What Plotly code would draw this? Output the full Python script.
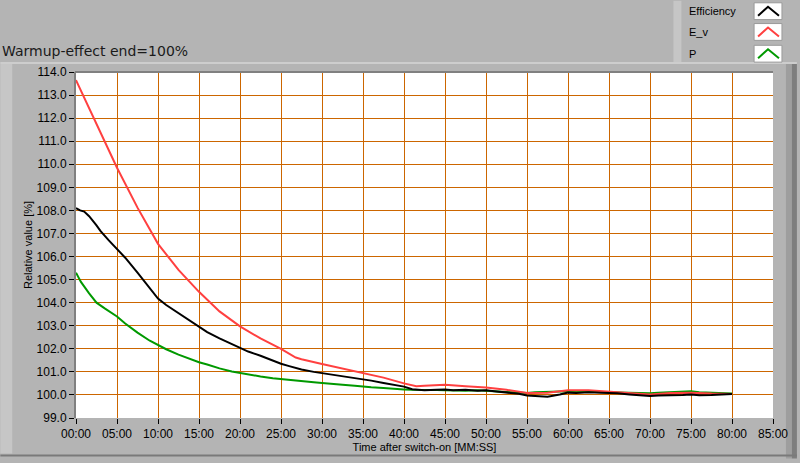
import plotly.graph_objects as go

# ---- data (minutes after switch-on, relative value %) ----
t_red = [0, 1, 2.5, 5, 7.5, 10, 12.5, 15, 17.5, 20, 22.5, 25, 26.8, 27.5, 30, 32.5, 35, 37.5, 40,
         41.5, 42.5, 45, 47.5, 50, 52.5, 55, 57.5, 60, 62.5, 65, 67.5, 70, 72.5, 75, 77.5, 80]
ev = [113.65, 112.9, 111.75, 109.85, 108.12, 106.55, 105.42, 104.47, 103.62, 102.97, 102.45, 102.0, 101.62,
      101.55, 101.34, 101.15, 100.97, 100.75, 100.5, 100.38, 100.4, 100.44, 100.38, 100.32, 100.22,
      100.08, 100.1, 100.2, 100.2, 100.15, 100.1, 100.02, 100.08, 100.1, 100.06, 100.04]

t_blk = [0, 0.5, 1, 1.6, 2.5, 3, 4, 5, 6, 7.5, 9, 10, 11, 12.5, 13.5, 15, 16, 17.5, 19, 20, 21, 22.5, 24,
         25, 26, 27.5, 29, 30, 31, 32.5, 34, 35, 36, 37.5, 39, 40, 41, 42.5, 44, 45, 46, 47.5, 49, 50, 51,
         52.5, 54, 55, 56, 57.5, 59, 60, 61, 62.5, 64, 65, 66, 67.5, 69, 70, 71, 72.5, 74, 75, 76, 77.5, 79, 80]
eff = [108.1, 108.0, 107.95, 107.75, 107.35, 107.1, 106.7, 106.32, 105.95, 105.3, 104.6, 104.18, 103.9,
       103.55, 103.3, 102.95, 102.72, 102.45, 102.2, 102.02, 101.88, 101.7, 101.48, 101.35, 101.25, 101.1,
       101.0, 100.95, 100.9, 100.82, 100.74, 100.7, 100.62, 100.52, 100.42, 100.36, 100.25, 100.2, 100.22,
       100.24, 100.2, 100.22, 100.18, 100.2, 100.16, 100.12, 100.05, 99.98, 99.95, 99.92, 100.02, 100.1,
       100.08, 100.12, 100.1, 100.1, 100.07, 100.02, 99.97, 99.95, 99.98, 99.98, 100.0, 100.02, 99.99,
       100.0, 100.02, 100.04]

t_grn = [0, 0.6, 1.6, 2.5, 3.5, 4.5, 5, 6, 7.5, 9, 10, 11, 12.5, 14, 15, 16, 17.5, 19, 20, 21, 22.5, 24, 25,
         26, 27.5, 29, 30, 31, 32.5, 34, 35, 36, 37.5, 39, 40, 41, 42.5, 44, 45, 46, 47.5, 49, 50, 51, 52.5,
         54, 55, 56, 57.5, 59, 60, 61, 62.5, 64, 65, 66, 67.5, 69, 70, 71, 72.5, 74, 75, 76, 77.5, 79, 80]
pw = [105.3, 104.9, 104.4, 104.0, 103.75, 103.5, 103.4, 103.1, 102.7, 102.35, 102.15, 101.98, 101.75,
      101.55, 101.42, 101.32, 101.15, 101.02, 100.95, 100.88, 100.8, 100.72, 100.68, 100.64, 100.6, 100.55,
      100.52, 100.48, 100.44, 100.4, 100.36, 100.33, 100.3, 100.28, 100.24, 100.22, 100.2, 100.21, 100.2,
      100.19, 100.18, 100.2, 100.18, 100.16, 100.14, 100.1, 100.08, 100.12, 100.14, 100.15, 100.16, 100.15,
      100.14, 100.12, 100.1, 100.1, 100.08, 100.08, 100.07, 100.1, 100.12, 100.15, 100.16, 100.12, 100.1,
      100.08, 100.06]

x_tickvals = list(range(0, 90, 5))
x_ticktext = ["%02d:00" % v for v in x_tickvals]
y_tickvals = list(range(99, 115))

series_names = ["Efficiency", "E_v", "P"]
series_colors = ["#000000", "#FF4040", "#009900"]

BG = "#B4B4B4"
GRID = "#CC6600"
FONT = "Liberation Sans"

W, H = 800, 463
ML, MR, MT, MB = 76, 24, 72, 41
PW, PH = W - ML - MR, H - MT - MB

fig = go.Figure()
fig.add_trace(go.Scatter(x=t_grn, y=pw, mode="lines", line=dict(color=series_colors[2], width=2),
                         name=series_names[2], showlegend=False))
fig.add_trace(go.Scatter(x=t_red, y=ev, mode="lines", line=dict(color=series_colors[1], width=2),
                         name=series_names[1], showlegend=False))
fig.add_trace(go.Scatter(x=t_blk, y=eff, mode="lines", line=dict(color=series_colors[0], width=2),
                         name=series_names[0], showlegend=False))

fig.update_layout(
    width=W, height=H,
    margin=dict(l=ML, r=MR, t=MT, b=MB),
    paper_bgcolor=BG, plot_bgcolor="#FFFFFF",
    font=dict(family=FONT, size=12, color="#000000"),
    showlegend=False,
)
fig.update_xaxes(range=[0, 85], tickvals=x_tickvals, ticktext=x_ticktext,
                 showgrid=True, gridcolor=GRID, gridwidth=1, zeroline=False,
                 ticks="outside", ticklen=5, tickcolor="#000000", showline=False,
                 tickfont=dict(family=FONT, size=12),
                 title=dict(text="Time after switch-on [MM:SS]", font=dict(family=FONT, size=11), standoff=2))
fig.update_yaxes(range=[99, 114], tickvals=y_tickvals, tickformat=".1f",
                 showgrid=True, gridcolor=GRID, gridwidth=1, zeroline=False,
                 ticks="outside", ticklen=5, tickcolor="#000000",
                 showline=True, linecolor="#808080", linewidth=2,
                 tickfont=dict(family=FONT, size=12),
                 title=dict(text="Relative value [%]", font=dict(family=FONT, size=11), standoff=2))

# pixel -> paper (paper coords are relative to the plot area)
def px(x):
    return (x - ML) / PW
def py(y):
    return 1 - (y - MT) / PH

shapes = []
# left bevel strip
shapes.append(dict(type="rect", xref="paper", yref="paper", x0=px(0), x1=px(12), y0=py(458), y1=py(64),
                   fillcolor="#C6C6C6", line=dict(width=0), layer="below"))
# right dark strip
shapes.append(dict(type="rect", xref="paper", yref="paper", x0=px(789), x1=px(795), y0=py(463), y1=py(64),
                   fillcolor="#9E9E9E", line=dict(width=0), layer="below"))
shapes.append(dict(type="rect", xref="paper", yref="paper", x0=px(795), x1=px(800), y0=py(463), y1=py(64),
                   fillcolor="#7E7E7E", line=dict(width=0), layer="below"))
# horizontal separator line under title
shapes.append(dict(type="line", xref="paper", yref="paper", x0=px(0), x1=px(800), y0=py(63), y1=py(63),
                   line=dict(color="#CDCDCD", width=2)))
# bottom dark line
shapes.append(dict(type="line", xref="paper", yref="paper", x0=px(0), x1=px(800), y0=py(460), y1=py(460),
                   line=dict(color="#7A7A7A", width=2)))
# plot top border
shapes.append(dict(type="line", xref="paper", yref="paper", x0=px(75), x1=px(776), y0=py(72), y1=py(72),
                   line=dict(color="#808080", width=2)))
# legend panel
shapes.append(dict(type="rect", xref="paper", yref="paper", x0=px(676), x1=px(684), y0=py(62), y1=py(0),
                   fillcolor="#C6C6C6", line=dict(width=0), layer="below"))

annotations = []
box_tops = [2, 23, 45]
for i, (name, col) in enumerate(zip(series_names, series_colors)):
    top = box_tops[i]
    bot = top + 17
    shapes.append(dict(type="rect", xref="paper", yref="paper", x0=px(757), x1=px(785), y0=py(bot), y1=py(top),
                       fillcolor="#FFFFFF", line=dict(color="#9A9A9A", width=1)))
    path = "M %f %f L %f %f L %f %f" % (px(761), py(bot - 4), px(771), py(top + 4), px(782), py(bot - 4))
    shapes.append(dict(type="path", xref="paper", yref="paper", path=path,
                       line=dict(color=col, width=2)))
    annotations.append(dict(text=name, xref="paper", yref="paper", x=px(690), y=py((top + bot) / 2),
                            xanchor="left", yanchor="middle", showarrow=False,
                            font=dict(family=FONT, size=11, color="#000000")))

annotations.append(dict(text="Warmup-effect end=100%", xref="paper", yref="paper", x=px(0), y=py(51),
                        xanchor="left", yanchor="middle", showarrow=False,
                        font=dict(family="DejaVu Sans", size=14, color="#1A1A1A")))

fig.update_layout(shapes=shapes, annotations=annotations)
fig.write_html("out.html", config={"displayModeBar": False},
               post_script="document.body.style.margin='0';document.body.style.overflow='hidden';")
